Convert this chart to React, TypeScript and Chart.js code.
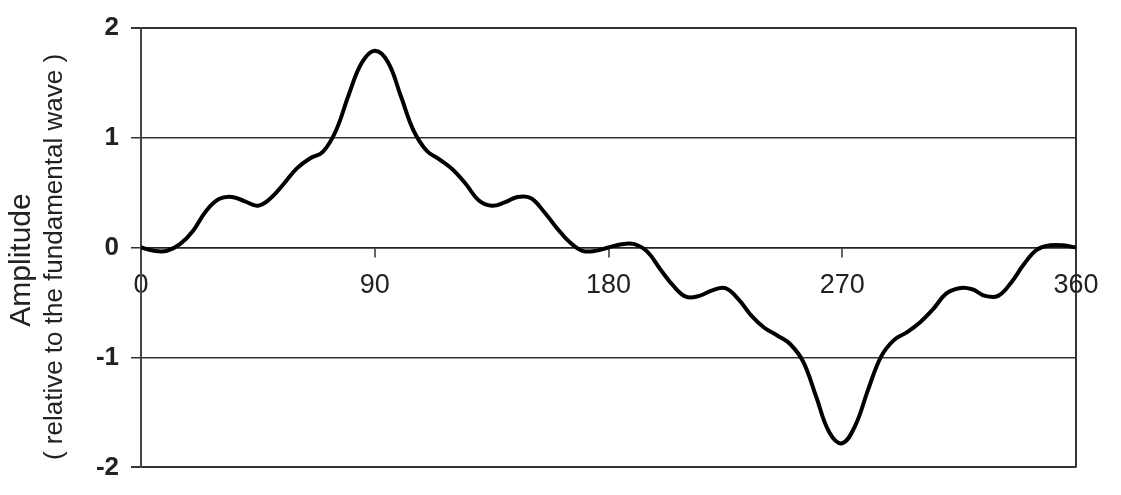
import { useEffect, useRef } from 'react';
import { Chart, registerables } from 'chart.js';

Chart.register(...registerables);

const angles = [
  0, 5, 10, 15, 20, 25, 30, 35, 40, 45, 50, 55, 60, 65, 70, 75, 80, 85, 90,
  95, 100, 105, 110, 115, 120, 125, 130, 135, 140, 145, 150, 155, 160, 165, 170, 175, 180,
  185, 190, 195, 200, 205, 210, 215, 220, 225, 230, 235, 240, 245, 250, 255, 260, 265, 270,
  275, 280, 285, 290, 295, 300, 305, 310, 315, 320, 325, 330, 335, 340, 345, 350, 355, 360,
];

const amplitude = [
  0.0, -0.03, -0.03, 0.03, 0.15, 0.33, 0.44, 0.46, 0.42, 0.38, 0.45, 0.58, 0.72, 0.81, 0.87, 1.06, 1.39, 1.68, 1.79,
  1.69, 1.38, 1.06, 0.88, 0.8, 0.71, 0.58, 0.43, 0.38, 0.41, 0.46, 0.45, 0.33, 0.18, 0.05, -0.03, -0.03, 0.0,
  0.03, 0.03, -0.04, -0.2, -0.35, -0.45, -0.44, -0.39, -0.37, -0.47, -0.62, -0.73, -0.8, -0.88, -1.04, -1.36, -1.68, -1.78,
  -1.62, -1.29, -0.99, -0.84, -0.77, -0.68, -0.56, -0.42, -0.37, -0.38, -0.44, -0.44, -0.32, -0.15, -0.02, 0.02, 0.02, 0.0,
];

const xTicks = [0, 90, 180, 270, 360];
const yTicks = [-2, -1, 0, 1, 2];
const yTitle = 'Amplitude';
const ySubTitle = '( relative to the fundamental wave )';

const FONT = '"Liberation Sans", Arial, sans-serif';

const titlePlugin = {
  id: 'yTitles',
  afterDraw(chart: any) {
    const ctx = chart.ctx;
    ctx.save();
    ctx.fillStyle = '#222';
    ctx.textAlign = 'center';
    ctx.textBaseline = 'middle';
    ctx.save();
    ctx.translate(22, 260);
    ctx.rotate(-Math.PI / 2);
    ctx.font = `30px ${FONT}`;
    ctx.fillText(yTitle, 0, 0);
    ctx.restore();
    ctx.save();
    ctx.translate(55, 257);
    ctx.rotate(-Math.PI / 2);
    ctx.font = `26px ${FONT}`;
    ctx.fillText(ySubTitle, 0, 0);
    ctx.restore();
    ctx.restore();
  },
};

export default function App() {
  const ref = useRef<HTMLCanvasElement | null>(null);

  useEffect(() => {
    document.body.style.margin = '0';
    const canvas = ref.current;
    if (!canvas) return;
    const chart = new Chart(canvas, {
      type: 'line',
      data: {
        datasets: [
          {
            data: angles.map((a, i) => ({ x: a, y: amplitude[i] })),
            borderColor: '#000',
            borderWidth: 4,
            pointRadius: 0,
            tension: 0.4,
            fill: false,
          },
        ],
      },
      plugins: [titlePlugin],
      options: {
        animation: false,
        responsive: false,
        maintainAspectRatio: false,
        layout: { padding: { left: 0, top: 21, right: 45, bottom: 25 } },
        plugins: { legend: { display: false }, tooltip: { enabled: false }, title: { display: false } },
        scales: {
          x: {
            type: 'linear',
            min: 0,
            max: 360,
            position: { y: 0 } as any,
            afterBuildTicks: (s: any) => {
              s.ticks = xTicks.map((v) => ({ value: v }));
            },
            ticks: {
              color: '#222',
              font: { family: FONT, size: 27 },
              padding: 13,
              maxRotation: 0,
              autoSkip: false,
            },
            grid: {
              drawOnChartArea: true,
              color: (c: any) => (c.tick && c.tick.value === 360 ? '#333' : 'rgba(0,0,0,0)'),
              lineWidth: 2,
              tickColor: '#333',
              tickLength: 9,
              tickWidth: 1.5,
            },
            border: { display: true, color: '#222', width: 1.5 },
          },
          y: {
            type: 'linear',
            min: -2,
            max: 2,
            afterBuildTicks: (s: any) => {
              s.ticks = yTicks.map((v) => ({ value: v }));
            },
            afterFit: (s: any) => {
              s.width = 141;
            },
            ticks: {
              color: '#222',
              font: { family: FONT, size: 26, weight: 'bold' },
              padding: 12,
            },
            grid: {
              color: '#333',
              lineWidth: (c: any) => (c.tick && Math.abs(c.tick.value) === 2 ? 2 : 1.5),
              tickLength: 10,
            },
            border: { display: true, color: '#444', width: 2 },
          },
        },
      },
    });
    return () => chart.destroy();
  }, []);

  return (
    <div style={{ width: 1121, height: 495 }}>
      <canvas ref={ref} width={1121} height={495} style={{ display: 'block' }} />
    </div>
  );
}
